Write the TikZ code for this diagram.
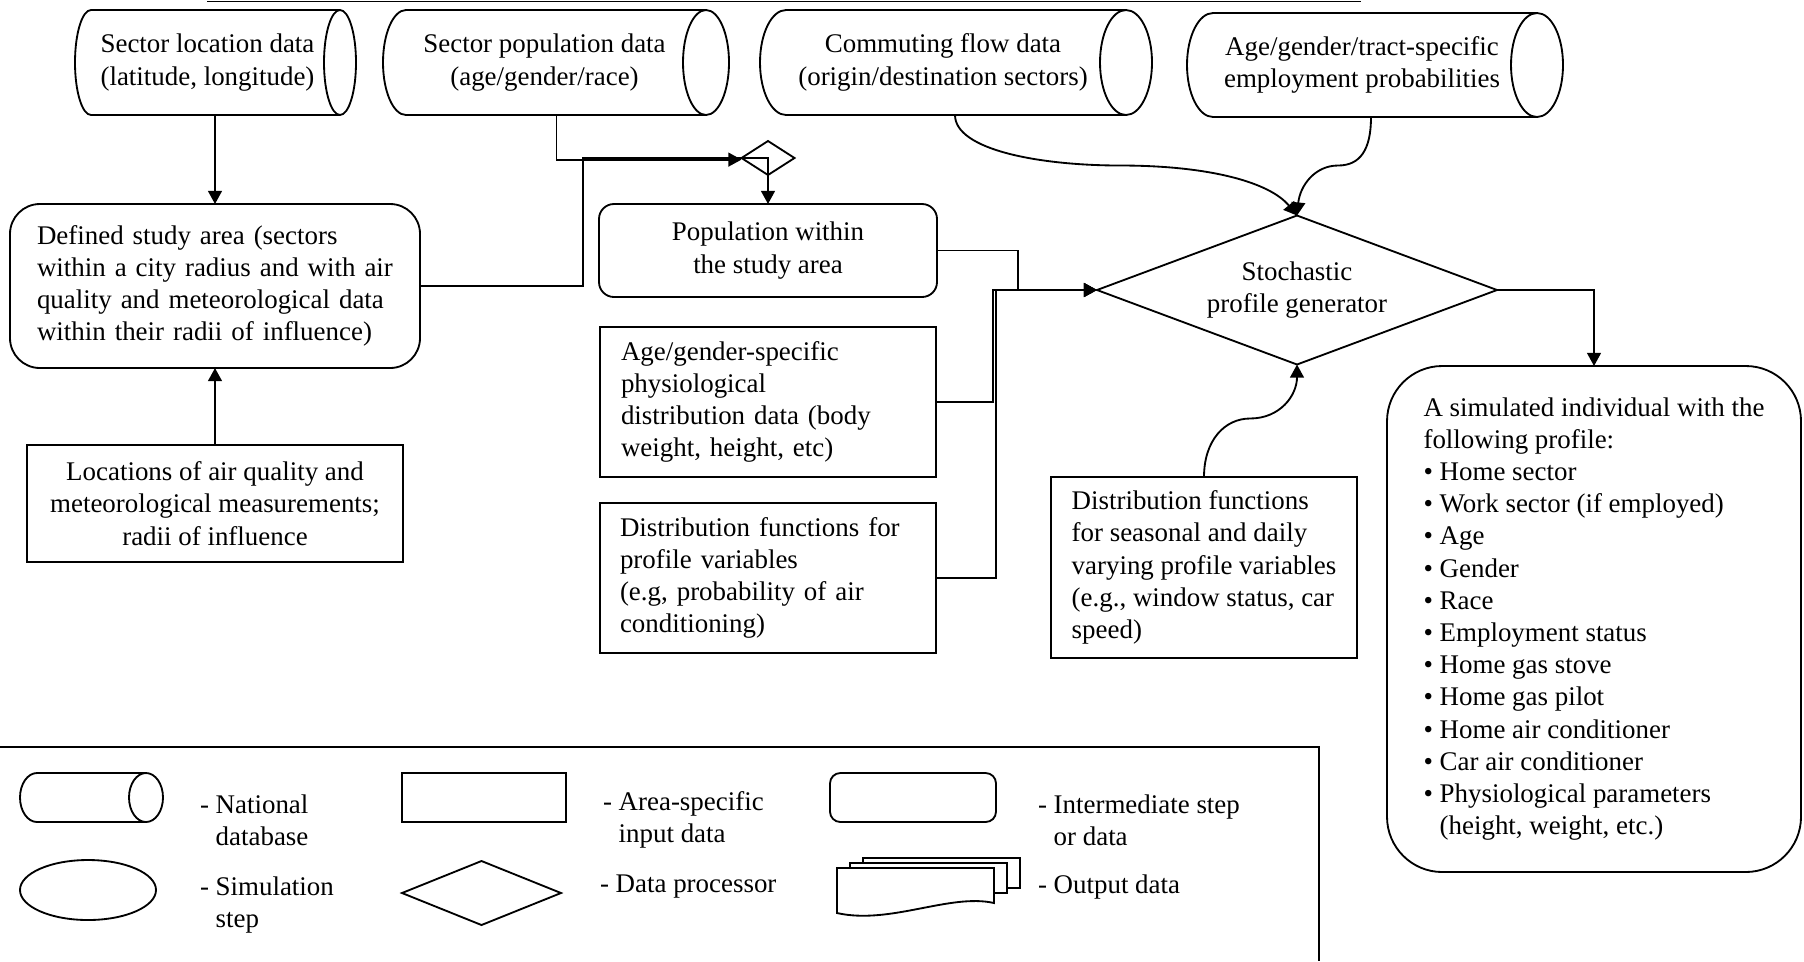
\documentclass[tikz,border=0pt]{standalone}
\usepackage{fontspec}
\setmainfont{Liberation Serif}
\usetikzlibrary{shapes.geometric,arrows.meta,calc}
\newlength{\pxu}
\setlength{\pxu}{0.43459pt}
% Outline of a horizontal database cylinder drawn around a named node:
% #1 node name, #2 x radius of the end ellipse, #3 half height
\newcommand{\dbcylinder}[3]{%
  \draw[conn] (#1.north east) -- ($(#1.north west)+(#2,0)$)
    arc[start angle=270, end angle=90, x radius=#2, y radius=#3]
    -- (#1.south east);
  \draw[conn] (#1.east) ellipse[x radius=#2, y radius=#3];}
\begin{document}
\begin{tikzpicture}[x=0.43459pt, y=-0.43459pt,
  every node/.style={font=\fontsize{11.7}{14}\selectfont, inner sep=0pt, outer sep=0pt},
  conn/.style={line width=0.8pt},
  arr/.style={conn, -{Triangle[length=5.7pt, width=6pt]}},
  dbase/.style={rectangle, align=center},
  inputbox/.style={rectangle, draw, conn},
  stepbox/.style={rectangle, draw, conn, rounded corners=#1},
  stepbox/.default=6pt,
  proc/.style={diamond, draw, conn},
  legtext/.style={anchor=west, align=left}]

\path[fill=white] (0,0) rectangle (1804,961);
\useasboundingbox (0,0) rectangle (1804,961);

% rule along the top edge
\draw[conn] (207,1.5) -- (1361,1.5);

% national databases
\node[dbase, minimum width=265\pxu, minimum height=105\pxu] (c1) at (207.5,62.5)
  {Sector location data\\(latitude, longitude)};
\dbcylinder{c1}{16}{52.5}
\node[dbase, minimum width=323\pxu, minimum height=105\pxu] (c2) at (544.5,62.5)
  {Sector population data\\(age/gender/race)};
\dbcylinder{c2}{23}{52.5}
\node[dbase, minimum width=366\pxu, minimum height=105\pxu] (c3) at (943,62.5)
  {Commuting flow data\\(origin/destination sectors)};
\dbcylinder{c3}{26}{52.5}
\node[dbase, minimum width=350\pxu, minimum height=104\pxu] (c4) at (1362,65)
  {Age/gender/tract-specific\\employment probabilities};
\dbcylinder{c4}{26}{52}

% study area and its inputs
\node[stepbox=13pt, minimum width=410\pxu, minimum height=164\pxu,
      text width=356\pxu, align=left] (defarea) at (215,286)
  {Defined study area (sectors\\within a city radius and with air\\quality and meteorological data\\within their radii of influence)};
\node[inputbox, minimum width=376\pxu, minimum height=117\pxu, align=center] (locs) at (215,503.5)
  {Locations of air quality and\\meteorological measurements;\\radii of influence};

% population processing
\node[proc, minimum width=53\pxu, minimum height=34\pxu, shape aspect=1.56] (proc) at (768,158) {};
\node[stepbox=6.5pt, minimum width=338\pxu, minimum height=93\pxu, align=center] (pop) at (768,250.5)
  {Population within\\the study area};
\node[inputbox, minimum width=336\pxu, minimum height=150\pxu, text width=294\pxu, align=left] (agebox) at (768,402)
  {Age/gender-specific\\physiological\\distribution data (body\\weight, height, etc)};
\node[inputbox, minimum width=336\pxu, minimum height=150\pxu, text width=296\pxu, align=left] (dfbox) at (768,578)
  {Distribution functions for\\profile variables\\(e.g, probability of air\\conditioning)};

% generator
\node[proc, minimum width=400\pxu, minimum height=149\pxu, shape aspect=2.68, align=center] (stoch) at (1297,290)
  {Stochastic\\profile generator};
\node[inputbox, minimum width=306\pxu, minimum height=181\pxu, align=left] (season) at (1204,567.5)
  {Distribution functions\\for seasonal and daily\\varying profile variables\\(e.g., window status, car\\speed)};

% output
\node[stepbox=24pt, minimum width=414\pxu, minimum height=506\pxu, align=left] (sim) at (1594,619)
  {A simulated individual with the\\following profile:\\%
   • Home sector\\• Work sector (if employed)\\• Age\\• Gender\\• Race\\%
   • Employment status\\• Home gas stove\\• Home gas pilot\\%
   • Home air conditioner\\• Car air conditioner\\%
   • Physiological parameters\\\phantom{• }(height, weight, etc.)};

% connectors
\draw[arr] (c1.south -| defarea.north) -- (defarea.north);
\draw[arr] (locs.north) -- (defarea.south);
\draw[arr] ([xshift=12\pxu]c2.south) |- ([yshift=-1.6\pxu]proc.west);
\draw[arr] (defarea.east) -- ++(163,0) |- (proc.center) -- (pop.north);
\draw[arr] (pop.east) -| ($(stoch.west)+(-79,0)$) -- (stoch.west);
\draw[arr] (agebox.east) -| ($(stoch.west)+(-104,0)$) -- (stoch.west);
\draw[arr] (dfbox.east) -| ($(stoch.west)+(-101,0)$) -- (stoch.west);
\draw[arr] (stoch.east) -| (sim.north);
\draw[arr] ([xshift=12\pxu]c3.south) .. controls +(0,35) and +(-80,0) ..
  ($(stoch.north)+(-177,-50)$) .. controls +(90,0) and +(-27,-33) .. (stoch.north);
\draw[arr] ([xshift=9\pxu]c4.south) .. controls +(0,33) and +(22,0) ..
  ($(stoch.north)+(41,-50)$) .. controls +(-23,0) and +(3,-30) .. (stoch.north);
\draw[arr] (season.north) .. controls +(0,-37) and +(-25,0) ..
  ($(stoch.south)+(-47,54)$) .. controls +(30,0) and +(0,31) .. (stoch.south);

% legend frame
\draw[conn] (0,747) -- (1319,747) -- (1319,961);

% legend symbols and captions
\node[dbase, minimum width=126\pxu, minimum height=49\pxu] (lcyl) at (83,797.5) {};
\dbcylinder{lcyl}{17}{24.5}
\node[legtext] (lt1) at (200,820) {- National\\\phantom{- }database};
\node[inputbox, minimum width=164\pxu, minimum height=49\pxu] (lrect) at (484,797.5) {};
\node[legtext] (lt2) at (603,820) {- Area-specific\\\phantom{- }input data};
\node[stepbox=4.5pt, minimum width=166\pxu, minimum height=49\pxu] (lround) at (913,797.5) {};
\node[legtext] (lt3) at (1038,820) {- Intermediate step\\\phantom{- }or data};
\node[ellipse, draw, conn, minimum width=136\pxu, minimum height=60\pxu] (lell) at (88,890) {};
\node[legtext] (lt4) at (200,905) {- Simulation\\\phantom{- }step};
\node[proc, minimum width=159\pxu, minimum height=64\pxu, shape aspect=2.48] (ldia) at (481.5,893) {};
\node[legtext] (lt5) at (600,887) {- Data processor};
% stacked output documents
\draw[conn, fill=white] (863,858) rectangle (1020,888);
\draw[conn, fill=white] (850,863) rectangle (1007,893);
\draw[conn, fill=white] (837,868) -- (994,868) -- (994,903)
  .. controls (950,893) and (890,925) .. (837,913) -- cycle;
\node[legtext] (lt6) at (1038,887) {- Output data};
\end{tikzpicture}
\end{document}
